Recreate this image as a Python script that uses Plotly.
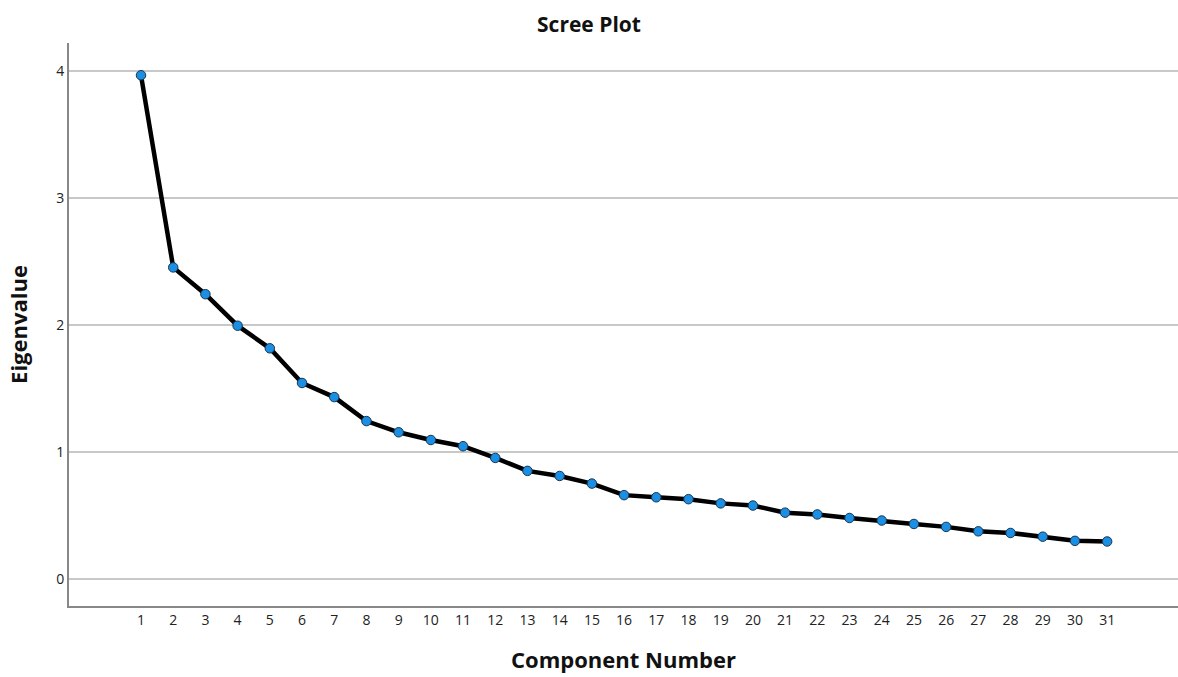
import plotly.graph_objects as go

components = list(range(1, 32))
eigenvalues = [3.966, 2.453, 2.242, 1.994, 1.816, 1.543, 1.432, 1.243, 1.155, 1.094,
               1.045, 0.953, 0.851, 0.811, 0.751, 0.660, 0.643, 0.628, 0.595, 0.578,
               0.522, 0.508, 0.480, 0.460, 0.433, 0.410, 0.375, 0.362, 0.333, 0.300, 0.295]
y_ticks = [0, 1, 2, 3, 4]

fig = go.Figure()
fig.add_trace(go.Scatter(
    x=components, y=eigenvalues, mode="lines+markers",
    line=dict(color="black", width=4.5),
    marker=dict(size=9.5, color="#1b8fe3", line=dict(color="#1a3550", width=1)),
    showlegend=False,
))

fig.update_layout(
    width=1178, height=677,
    margin=dict(l=69, r=0, t=43, b=71),
    paper_bgcolor="white", plot_bgcolor="white",
    font=dict(family="Open Sans, DejaVu Sans, sans-serif", color="#222"),
    title=dict(text="<b>Scree Plot</b>", x=589 / 1178, xanchor="center", y=0.963, yanchor="middle",
               font=dict(size=21, color="#111")),
)
fig.update_xaxes(
    range=[-1.236, 33.2], tickmode="array", tickvals=components,
    ticktext=[str(c) for c in components],
    showgrid=False, zeroline=False,
    showline=True, linecolor="#888", linewidth=2,
    ticks="", tickfont=dict(size=14, color="#222"),
    title=dict(text="<b>Component Number</b>", font=dict(size=22, color="#111"), standoff=25),
)
fig.update_yaxes(
    range=[-0.213, 4.22], tickmode="array", tickvals=y_ticks,
    showgrid=True, gridcolor="#c8c8c8", gridwidth=2, zeroline=False,
    showline=True, linecolor="#888", linewidth=2,
    ticks="", tickfont=dict(size=14, color="#222"),
    title=dict(text="<b>Eigenvalue</b>", font=dict(size=22, color="#111"), standoff=22),
)

fig.write_html(
    "out.html",
    config={"displayModeBar": False},
    post_script="document.body.style.margin='0';document.body.style.overflow='hidden';",
)
